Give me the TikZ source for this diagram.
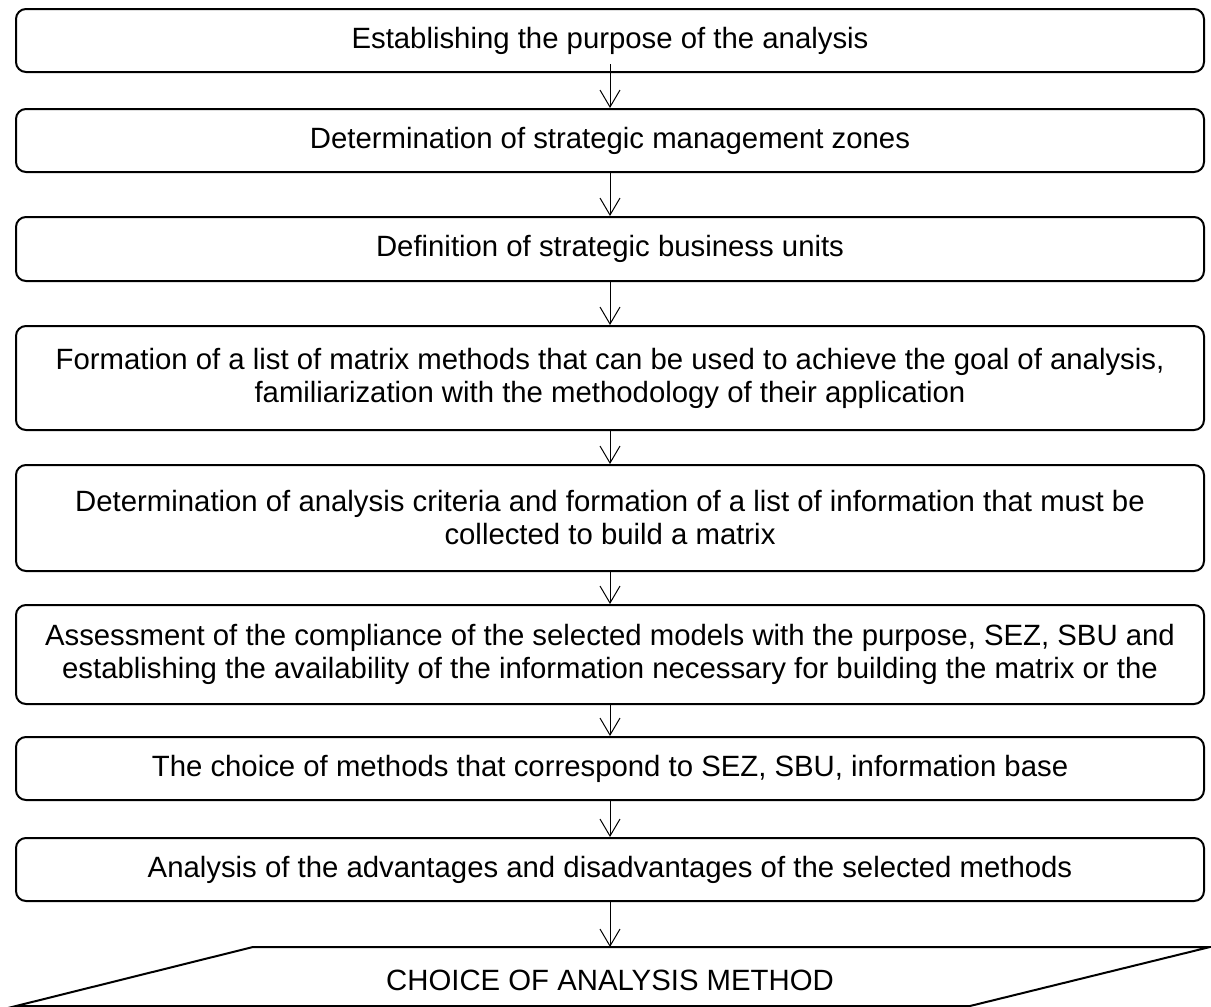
\documentclass[tikz,border=0pt]{standalone}
\usepackage{fontspec}
\setmainfont{Liberation Sans}
\usetikzlibrary{arrows.meta}
\begin{document}
\begin{tikzpicture}[x=0.75pt,y=-0.75pt,
  stepbox/.style={draw=black,line width=1.5pt,rounded corners=7.5pt,minimum width=891pt,inner sep=0pt,align=center,
    font=\fontsize{22}{24.75}\selectfont},
  conn/.style={line width=0.75pt,-{Straight Barb[length=12.75pt,width=15pt,line width=0.75pt]}},
  lbl/.style={font=\fontsize{22}{24.75}\selectfont,inner sep=0pt}]
\useasboundingbox (0,0) rectangle (1211,1007);
\node[stepbox,minimum height=47.25pt] (b1) at (610,40.5) {Establishing the purpose of the analysis};
\node[stepbox,minimum height=47.25pt] (b2) at (610,140.5) {Determination of strategic management zones};
\node[stepbox,minimum height=48pt] (b3) at (610,249) {Definition of strategic business units};
\node[stepbox,minimum height=78pt] (b4) at (610,378) {Formation of a list of matrix methods that can be used to achieve the goal of analysis,\\familiarization with the methodology of their application};
\node[stepbox,minimum height=79.5pt] (b5) at (610,518) {Determination of analysis criteria and formation of a list of information that must be\\collected to build a matrix};
\node[stepbox,minimum height=74.25pt] (b6) at (610,654.5) {Assessment of the compliance of the selected models with the purpose, SEZ, SBU and\\establishing the availability of the information necessary for building the matrix or the};
\node[stepbox,minimum height=47.25pt] (b7) at (610,768.5) {The choice of methods that correspond to SEZ, SBU, information base};
\node[stepbox,minimum height=47.25pt] (b8) at (610,869.5) {Analysis of the advantages and disadvantages of the selected methods};
\coordinate (ptl) at (253,947);
\coordinate (ptr) at (1210,947);
\coordinate (pbr) at (970,1006);
\coordinate (pbl) at (16,1006);
\coordinate (ptop) at (610,947);
\draw[line width=1.5pt,line join=miter] (ptl) -- (ptr) -- (pbr) -- (pbl) -- cycle;
\node[lbl] (final) at (610,980) {CHOICE OF ANALYSIS METHOD};
\draw[conn] ([yshift=6.75pt]b1.south) -- (b2.north);
\draw[conn] (b2.south) -- (b3.north);
\draw[conn] (b3.south) -- (b4.north);
\draw[conn] (b4.south) -- (b5.north);
\draw[conn] (b5.south) -- (b6.north);
\draw[conn] (b6.south) -- (b7.north);
\draw[conn] (b7.south) -- (b8.north);
\draw[conn] (b8.south) -- (ptop);
\end{tikzpicture}
\end{document}
